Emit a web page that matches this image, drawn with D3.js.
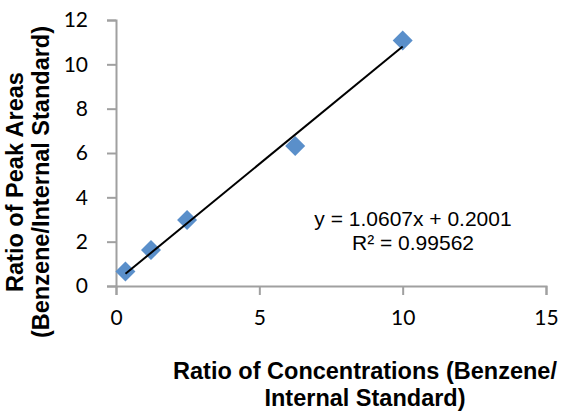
<!DOCTYPE html>
<html>
<head>
<meta charset="utf-8">
<script src="https://cdn.jsdelivr.net/npm/d3@7"></script>
<style>
  body { margin: 0; background: #fff; }
  .tick text { font-family: Lato, "Open Sans", sans-serif; font-size: 21px; fill: #000; }
  .title { font-family: "Liberation Sans", Arial, sans-serif; font-weight: bold; font-size: 23.5px; fill: #000; }
  .eq { font-family: "Liberation Sans", Arial, sans-serif; font-size: 21px; fill: #000; }
</style>
</head>
<body>
<div id="chart"></div>
<script>
// data
var concRatio = [0.33, 1.22, 2.48, 6.25, 10];
var areaRatio = [0.65, 1.62, 2.98, 6.32, 11.07];
var xTicks = [0, 5, 10, 15];
var yTicks = [0, 2, 4, 6, 8, 10, 12];
var slope = 1.0607, intercept = 0.2001;
var eqLines = ["y = 1.0607x + 0.2001", "R\u00b2 = 0.99562"];

//dimensions
var margin = {top: 20, right: 17, bottom: 125, left: 116},
	width = 563 - margin.left - margin.right,
	height = 411 - margin.top - margin.bottom;

var x = d3.scaleLinear().domain([0, 15]).range([0, width]);
var y = d3.scaleLinear().domain([0, 12]).range([height, 0]);

var svg = d3.select("#chart").append("svg")
	.attr("width", 563)
	.attr("height", 411)
	.append("g")
	.attr("transform", "translate(" + margin.left + "," + margin.top + ")");

//axes
var xAxis = svg.append("g")
	.attr("transform", "translate(0," + height + ")")
	.call(d3.axisBottom(x).tickValues(xTicks).tickSizeOuter(0).tickSize(9).tickPadding(19));

var yAxis = svg.append("g")
	.call(d3.axisLeft(y).tickValues(yTicks).tickSizeOuter(0).tickSize(9).tickPadding(19));

[xAxis, yAxis].forEach(function(a) {
	a.select(".domain").attr("stroke", "#a0a0a0").attr("stroke-width", 2);
	a.selectAll(".tick line").attr("stroke", "#a0a0a0").attr("stroke-width", 2);
});
xAxis.selectAll(".tick text").attr("dy", "0.5em");

//diamond markers
var data = concRatio.map(function(c, i) { return {x: c, y: areaRatio[i]}; });
svg.selectAll(".pt")
	.data(data)
	.enter().append("path")
	.attr("class", "pt")
	.attr("d", d3.symbol(d3.symbolSquare, 200))
	.attr("transform", function(d) { return "translate(" + x(d.x) + "," + y(d.y) + ") rotate(45)"; })
	.attr("fill", "#5a8fca");

//linear trendline over the data range
var xExt = d3.extent(concRatio);
svg.append("line")
	.attr("x1", x(xExt[0])).attr("y1", y(slope * xExt[0] + intercept))
	.attr("x2", x(xExt[1])).attr("y2", y(slope * xExt[1] + intercept))
	.attr("stroke", "#000")
	.attr("stroke-width", 2);

//equation label
svg.append("text")
	.attr("class", "eq")
	.attr("text-anchor", "middle")
	.selectAll("tspan")
	.data(eqLines)
	.enter().append("tspan")
	.attr("x", 297)
	.attr("y", function(d, i) { return 206 + i * 24; })
	.text(function(d) { return d; });

//axis titles
var xt = svg.append("text")
	.attr("class", "title")
	.attr("text-anchor", "middle");
xt.append("tspan").attr("x", 249).attr("y", 359).text("Ratio of Concentrations (Benzene/");
xt.append("tspan").attr("x", 249).attr("y", 386).text("Internal Standard)");

var yt = svg.append("text")
	.attr("class", "title")
	.attr("text-anchor", "middle")
	.attr("transform", "rotate(-90)");
yt.append("tspan").attr("x", -162).attr("y", -93).text("Ratio of Peak Areas");
yt.append("tspan").attr("x", -162).attr("y", -67).text("(Benzene/Internal Standard)");
</script>
</body>
</html>
